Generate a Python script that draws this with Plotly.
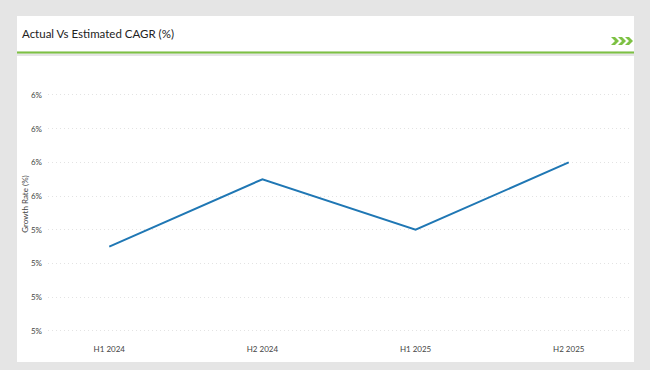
import plotly.graph_objects as go

categories = ["H1 2024", "H2 2024", "H1 2025", "H2 2025"]
growth_values = [5.35, 5.55, 5.40, 5.60]
tick_values = [5.1, 5.2, 5.3, 5.4, 5.5, 5.6, 5.7, 5.8]
tick_labels = ["5%", "5%", "5%", "5%", "6%", "6%", "6%", "6%"]

W, H = 650, 370
L, R, T, B = 48, 20, 65, 27
PW, PH = W - L - R, H - T - B


def px(x):
    return (x - L) / PW


def py(y):
    return (H - B - y) / PH


GREEN = "#7dc143"
BG = "#e5e5e5"

fig = go.Figure()
fig.add_trace(go.Scatter(
    x=categories, y=growth_values, mode="lines",
    line=dict(color="#1f77b4", width=2), hoverinfo="x+y", showlegend=False,
))

shapes = [
    dict(type="rect", xref="paper", yref="paper", x0=px(17), x1=px(634), y0=py(16), y1=py(51.5),
         fillcolor="white", line=dict(width=0), layer="below"),
    dict(type="rect", xref="paper", yref="paper", x0=px(17), x1=px(634), y0=py(51.5), y1=py(53.5),
         fillcolor=GREEN, line=dict(width=0), layer="below"),
    dict(type="rect", xref="paper", yref="paper", x0=px(17), x1=px(634), y0=py(56), y1=py(362),
         fillcolor="white", line=dict(width=0), layer="below"),
]
for cx in [611, 618, 625]:
    pts = [(cx, 37), (cx + 4, 37), (cx + 8, 41), (cx + 4, 45), (cx, 45), (cx + 4, 41)]
    path = "M " + " L ".join(f"{px(a)},{py(b)}" for a, b in pts) + " Z"
    shapes.append(dict(type="path", xref="paper", yref="paper", path=path,
                       fillcolor=GREEN, line=dict(width=0), layer="above"))

fig.update_layout(
    width=W, height=H,
    margin=dict(l=L, r=R, t=T, b=B, pad=0),
    paper_bgcolor=BG,
    plot_bgcolor="rgba(0,0,0,0)",
    font=dict(family="Lato, Open Sans, sans-serif", color="#444"),
    shapes=shapes,
    annotations=[dict(text="Actual Vs Estimated CAGR (%)", xref="paper", yref="paper",
                      x=px(20), y=py(33), xanchor="left", yanchor="middle", showarrow=False,
                      font=dict(size=11.5, color="#222", family="Lato, Open Sans, sans-serif"))],
    xaxis=dict(range=[-0.4, 3.4], showgrid=False, zeroline=False, showline=False,
               ticks="", tickfont=dict(size=8, color="#444")),
    yaxis=dict(range=[5.064, 5.889], tickvals=tick_values, ticktext=tick_labels,
               showgrid=True, gridcolor="#e3e3e3", griddash="1px,3px", gridwidth=1,
               zeroline=False, showline=False, ticks="", ticklabelstandoff=5,
               tickfont=dict(size=8, color="#444"),
               title=dict(text="Growth Rate (%)", font=dict(size=8, color="#444"), standoff=1)),
)

fig.write_html(
    "out.html",
    config={"displayModeBar": False},
    post_script=f"document.body.style.margin='0';document.body.style.background='{BG}';",
)
